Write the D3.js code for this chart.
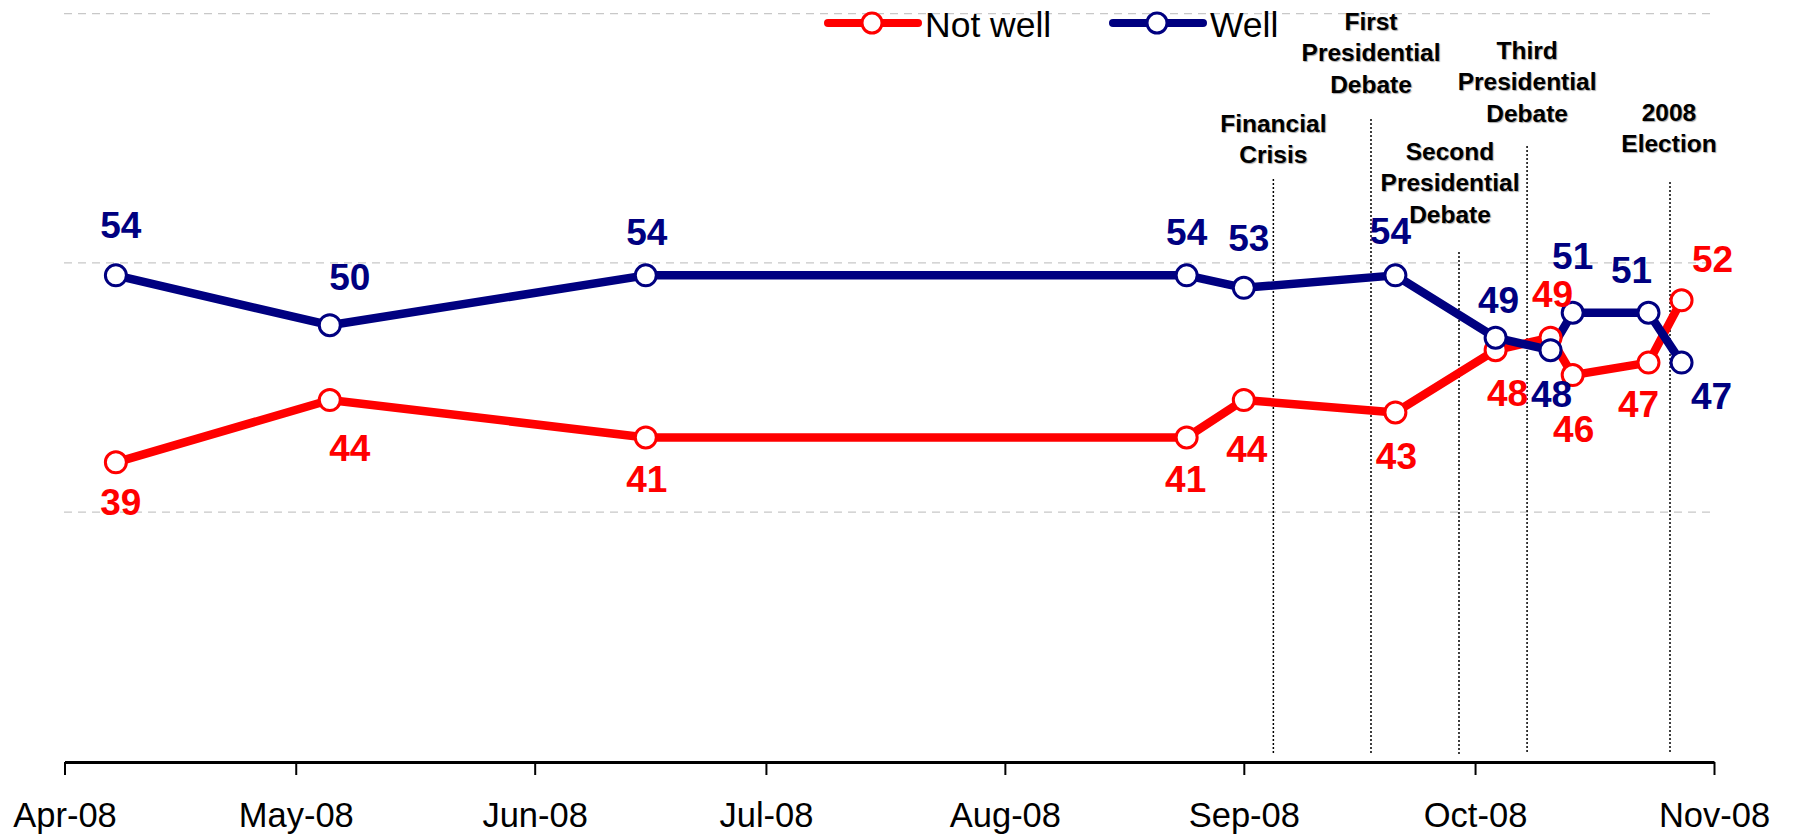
<!DOCTYPE html>
<html>
<head>
<meta charset="utf-8">
<script src="https://cdn.jsdelivr.net/npm/d3@7"></script>
<style>
  html, body { margin: 0; padding: 0; background: #fff; }
  svg { display: block; font-family: "Liberation Sans", Arial, sans-serif; }
</style>
</head>
<body>
<svg id="chart" width="1793" height="836"></svg>
<script>
// ---------- data ----------
const surveyDates = ["2008-04-07 16:00","2008-05-05 10:00","2008-06-15 10:00","2008-08-24 14:00",
  "2008-09-01 00:00","2008-09-20 16:00","2008-10-03 16:00","2008-10-10 19:00",
  "2008-10-13 16:00","2008-10-23 12:00","2008-10-27 19:00"];
const notWell = [39, 44, 41, 41, 44, 43, 48, 49, 46, 47, 52];
const well    = [54, 50, 54, 54, 53, 54, 49, 48, 51, 51, 47];
const seriesNames = ["Not well", "Well"];
const eventDates = ["2008-09-04 20:00","2008-09-17 12:00","2008-09-28 22:00","2008-10-07 18:00","2008-10-26 07:00"];
const eventLabels = [["Financial","Crisis"],["First","Presidential","Debate"],["Second","Presidential","Debate"],
  ["Third","Presidential","Debate"],["2008","Election"]];
const gridValues = [35, 55, 75];
const xDomain = ["2008-04-01 00:00","2008-11-01 00:00"];

// ---------- layout (not data) ----------
const notWellLabelOffsets = [[5,39],[20,48],[1,41],[-1,41],[3,49],[1,43],[12,43],[2,-44],[1,54],[-10,41],[31,-42]];
const wellLabelOffsets    = [[5,-51],[20,-49],[1,-44],[0,-44],[5,-50],[-5,-45],[3,-38],[1,44],[0,-57],[-17,-43],[30,33]];
const eventLineTops = [179, 119, 252, 146, 182];
const eventTextX    = [0, 0, -9, 0, -1];
const eventTextTop  = [123, 21, 151, 50, 112];

const RED = "#ff0000", BLUE = "#000080";
const parse = d3.timeParse("%Y-%m-%d %H:%M");
const svg = d3.select("#chart");

const x = d3.scaleTime().domain(xDomain.map(parse)).range([64.5, 1714]);
const y = d3.scaleLinear().domain([15, 75]).range([761.5, 13.6]);
const axisY = 762;

// gridlines
svg.append("g").selectAll("line").data(gridValues).join("line")
  .attr("x1", 64).attr("x2", 1714)
  .attr("y1", d => y(d)).attr("y2", d => y(d))
  .attr("stroke", "#c8c8c8").attr("stroke-width", 1.3).attr("stroke-dasharray", "8,6");

// event lines
const ev = svg.append("g");
eventDates.forEach((d, i) => {
  const ex = x(parse(d));
  ev.append("line").attr("x1", ex).attr("x2", ex).attr("y1", eventLineTops[i]).attr("y2", 754)
    .attr("stroke", "#000").attr("stroke-width", 1.5).attr("stroke-dasharray", "2,2");
  const t = ev.append("text").attr("text-anchor", "middle").attr("font-weight", "bold")
    .attr("font-size", 24.5).attr("fill", "#000")
    .style("text-shadow", "1px 1px 1px rgba(0,0,0,0.35)");
  eventLabels[i].forEach((s, j) => {
    t.append("tspan").attr("x", ex + eventTextX[i]).attr("y", eventTextTop[i] + j * 31.5)
      .attr("dy", "0.36em").text(s);
  });
});

// x axis
const xAxis = d3.axisBottom(x).ticks(d3.timeMonth.every(1)).tickFormat(d3.timeFormat("%b-%y"))
  .tickSize(13).tickSizeOuter(0).tickPadding(28);
const gx = svg.append("g").attr("transform", `translate(0,${axisY})`).call(xAxis);
gx.select(".domain").attr("stroke", "#000").attr("stroke-width", 3);
gx.selectAll(".tick line").attr("stroke", "#000").attr("stroke-width", 2);
gx.selectAll(".tick text").attr("font-size", 34.5).attr("fill", "#000")
  .attr("font-family", "'Liberation Sans', Arial, sans-serif");

// series
const dates = surveyDates.map(parse);
const series = [
  {name: seriesNames[0], values: notWell, color: RED, offs: notWellLabelOffsets},
  {name: seriesNames[1], values: well, color: BLUE, offs: wellLabelOffsets}
];
const line = d3.line().x(d => x(d[0])).y(d => y(d[1]));
series.forEach(s => {
  svg.append("path").datum(dates.map((d, i) => [d, s.values[i]]))
    .attr("d", line).attr("fill", "none").attr("stroke", s.color)
    .attr("stroke-width", 8.5).attr("stroke-linejoin", "round");
});
series.forEach(s => {
  svg.append("g").selectAll("circle").data(s.values).join("circle")
    .attr("cx", (d, i) => x(dates[i])).attr("cy", d => y(d)).attr("r", 10.5)
    .attr("fill", "#fff").attr("stroke", s.color).attr("stroke-width", 3);
});
series.forEach(s => {
  svg.append("g").selectAll("text").data(s.values).join("text")
    .attr("x", (d, i) => x(dates[i]) + s.offs[i][0])
    .attr("y", (d, i) => y(d) + s.offs[i][1])
    .attr("dy", "0.36em").attr("text-anchor", "middle")
    .attr("font-size", 37).attr("font-weight", "bold").attr("fill", s.color)
    .text(d => d);
});

// legend
const legendX = [828, 1113];
series.forEach((s, i) => {
  const g = svg.append("g").attr("transform", `translate(${legendX[i]},23)`);
  g.append("line").attr("x1", 0).attr("x2", 90).attr("y1", 0).attr("y2", 0)
    .attr("stroke", s.color).attr("stroke-width", 8).attr("stroke-linecap", "round");
  g.append("circle").attr("cx", 44).attr("cy", 0).attr("r", 10)
    .attr("fill", "#fff").attr("stroke", s.color).attr("stroke-width", 3);
  g.append("text").attr("x", 97).attr("y", 14).attr("font-size", 35.5).attr("fill", "#000").text(s.name);
});
</script>
</body>
</html>
